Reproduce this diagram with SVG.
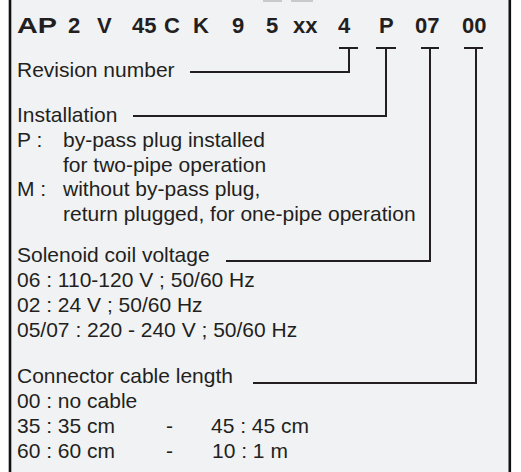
<svg xmlns="http://www.w3.org/2000/svg" width="521" height="472" viewBox="0 0 521 472">
<style>
.t{font-family:"Liberation Sans",Arial,sans-serif;font-size:21px;fill:#231f20}
.h{font-family:"Liberation Sans",Arial,sans-serif;font-size:22px;font-weight:bold;fill:#231f20}
.ln{fill:none;stroke:#231f20;stroke-width:2}
</style>
<rect x="0" y="0" width="521" height="472" fill="#ffffff"/>
<rect x="10" y="0" width="500" height="472" fill="#f1f2f4"/>
<rect x="263" y="0" width="19" height="2" fill="#c8c9cb"/>
<rect x="291" y="0" width="22" height="2" fill="#c8c9cb"/>
<g id="frame">
<line x1="10" y1="0" x2="10" y2="472" stroke="#111" stroke-width="2.6"/>
<line x1="509.8" y1="0" x2="509.8" y2="472" stroke="#111" stroke-width="2.6"/>
</g>
<g id="code">
<text class="h" x="17" y="33" textLength="40" lengthAdjust="spacingAndGlyphs">AP</text>
<text class="h" y="33"><tspan x="68">2</tspan><tspan x="97">V</tspan><tspan x="132">45</tspan><tspan x="164">C</tspan><tspan x="193">K</tspan><tspan x="232">9</tspan><tspan x="266">5</tspan><tspan x="293">xx</tspan><tspan x="338">4</tspan><tspan x="379">P</tspan><tspan x="415">07</tspan><tspan x="462">00</tspan></text>
</g>
<g id="revision">
<text class="t" x="17" y="77">Revision number</text>
</g>
<g id="installation">
<text class="t" x="17" y="122">Installation</text>
<text class="t" x="17" y="147">P :</text>
<text class="t" x="63" y="147">by-pass plug installed</text>
<text class="t" x="63" y="172">for two-pipe operation</text>
<text class="t" x="17" y="196">M :</text>
<text class="t" x="63" y="196">without by-pass plug,</text>
<text class="t" x="63" y="221">return plugged, for one-pipe operation</text>
</g>
<g id="voltage">
<text class="t" x="17" y="262">Solenoid coil voltage</text>
<text class="t" x="17" y="287">06 : 110-120 V ; 50/60 Hz</text>
<text class="t" x="17" y="312">02 : 24 V ; 50/60 Hz</text>
<text class="t" x="17" y="337">05/07 : 220 - 240 V ; 50/60 Hz</text>
</g>
<g id="cable">
<text class="t" x="17" y="383">Connector cable length</text>
<text class="t" x="17" y="408">00 : no cable</text>
<text class="t" x="17" y="433">35 : 35 cm</text>
<text class="t" x="166" y="433">-</text>
<text class="t" x="211" y="433">45 : 45 cm</text>
<text class="t" x="17" y="458">60 : 60 cm</text>
<text class="t" x="166" y="458">-</text>
<text class="t" x="212" y="458">10 : 1 m</text>
</g>
<g id="connectors">
<path class="ln" d="M339 48H358M349 48V72H190"/>
<path class="ln" d="M376 48H396M386 48V116H133"/>
<path class="ln" d="M421 48H439M430 48V261H226"/>
<path class="ln" d="M464 48H483M476 48V383H253"/>
</g>
</svg>
